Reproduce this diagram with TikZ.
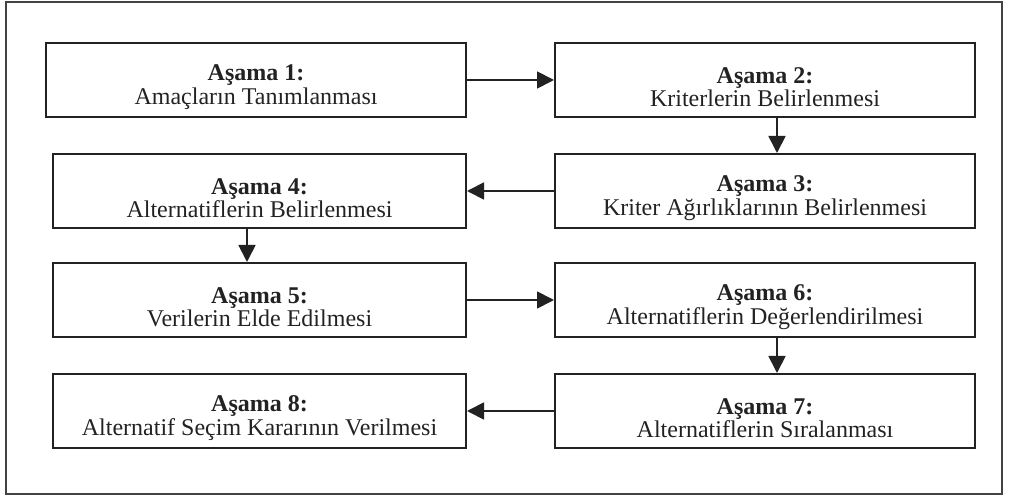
\documentclass[tikz,border=0pt]{standalone}
\usepackage{fontspec}
\setmainfont{Liberation Serif}
\usetikzlibrary{arrows.meta}
\definecolor{ink}{HTML}{222222}
\newcommand{\topstrut}{\rule{0pt}{15pt}}
\tikzset{
  stage/.style={draw=ink, line width=1pt, inner sep=0pt, align=center,
    minimum width=210pt, minimum height=37pt, text=ink,
    font=\fontsize{12}{11.6}\selectfont},
  stagenarrow/.style={stage, minimum width=206.5pt},
  arr/.style={draw=ink, line width=0.9pt, -{Triangle[length=8.5pt,width=8.5pt]}}
}
\begin{document}
\begin{tikzpicture}[x=0.5pt,y=-0.5pt]
\useasboundingbox (0,0) rectangle (1012,496);
\draw[ink!85, line width=0.8pt] (6,2) rectangle (1002,494);
\node[stage] (b1) at (256,80) {\topstrut\textbf{Aşama 1:}\\Amaçların Tanımlanması};
\node[stage] (b2) at (765,80) {\topstrut\textbf{Aşama 2:}\\Kriterlerin Belirlenmesi};
\node[stage] (b3) at (765,191) {\topstrut\textbf{Aşama 3:}\\Kriter Ağırlıklarının Belirlenmesi};
\node[stagenarrow] (b4) at (259.5,191) {\topstrut\textbf{Aşama 4:}\\Alternatiflerin Belirlenmesi};
\node[stagenarrow] (b5) at (259.5,300) {\topstrut\textbf{Aşama 5:}\\Verilerin Elde Edilmesi};
\node[stage] (b6) at (765,300) {\topstrut\textbf{Aşama 6:}\\Alternatiflerin Değerlendirilmesi};
\node[stage] (b7) at (765,411) {\topstrut\textbf{Aşama 7:}\\Alternatiflerin Sıralanması};
\node[stagenarrow] (b8) at (259.5,411) {\topstrut\textbf{Aşama 8:}\\Alternatif Seçim Kararının Verilmesi};
\draw[arr] (b1.east) -- (b2.west);
\draw[arr] ([xshift=6pt]b2.south) -- ([xshift=6pt]b3.north);
\draw[arr] (b3.west) -- (b4.east);
\draw[arr] ([xshift=-6.25pt]b4.south) -- ([xshift=-6.25pt]b5.north);
\draw[arr] (b5.east) -- (b6.west);
\draw[arr] ([xshift=6pt]b6.south) -- ([xshift=6pt]b7.north);
\draw[arr] (b7.west) -- (b8.east);
\end{tikzpicture}
\end{document}
